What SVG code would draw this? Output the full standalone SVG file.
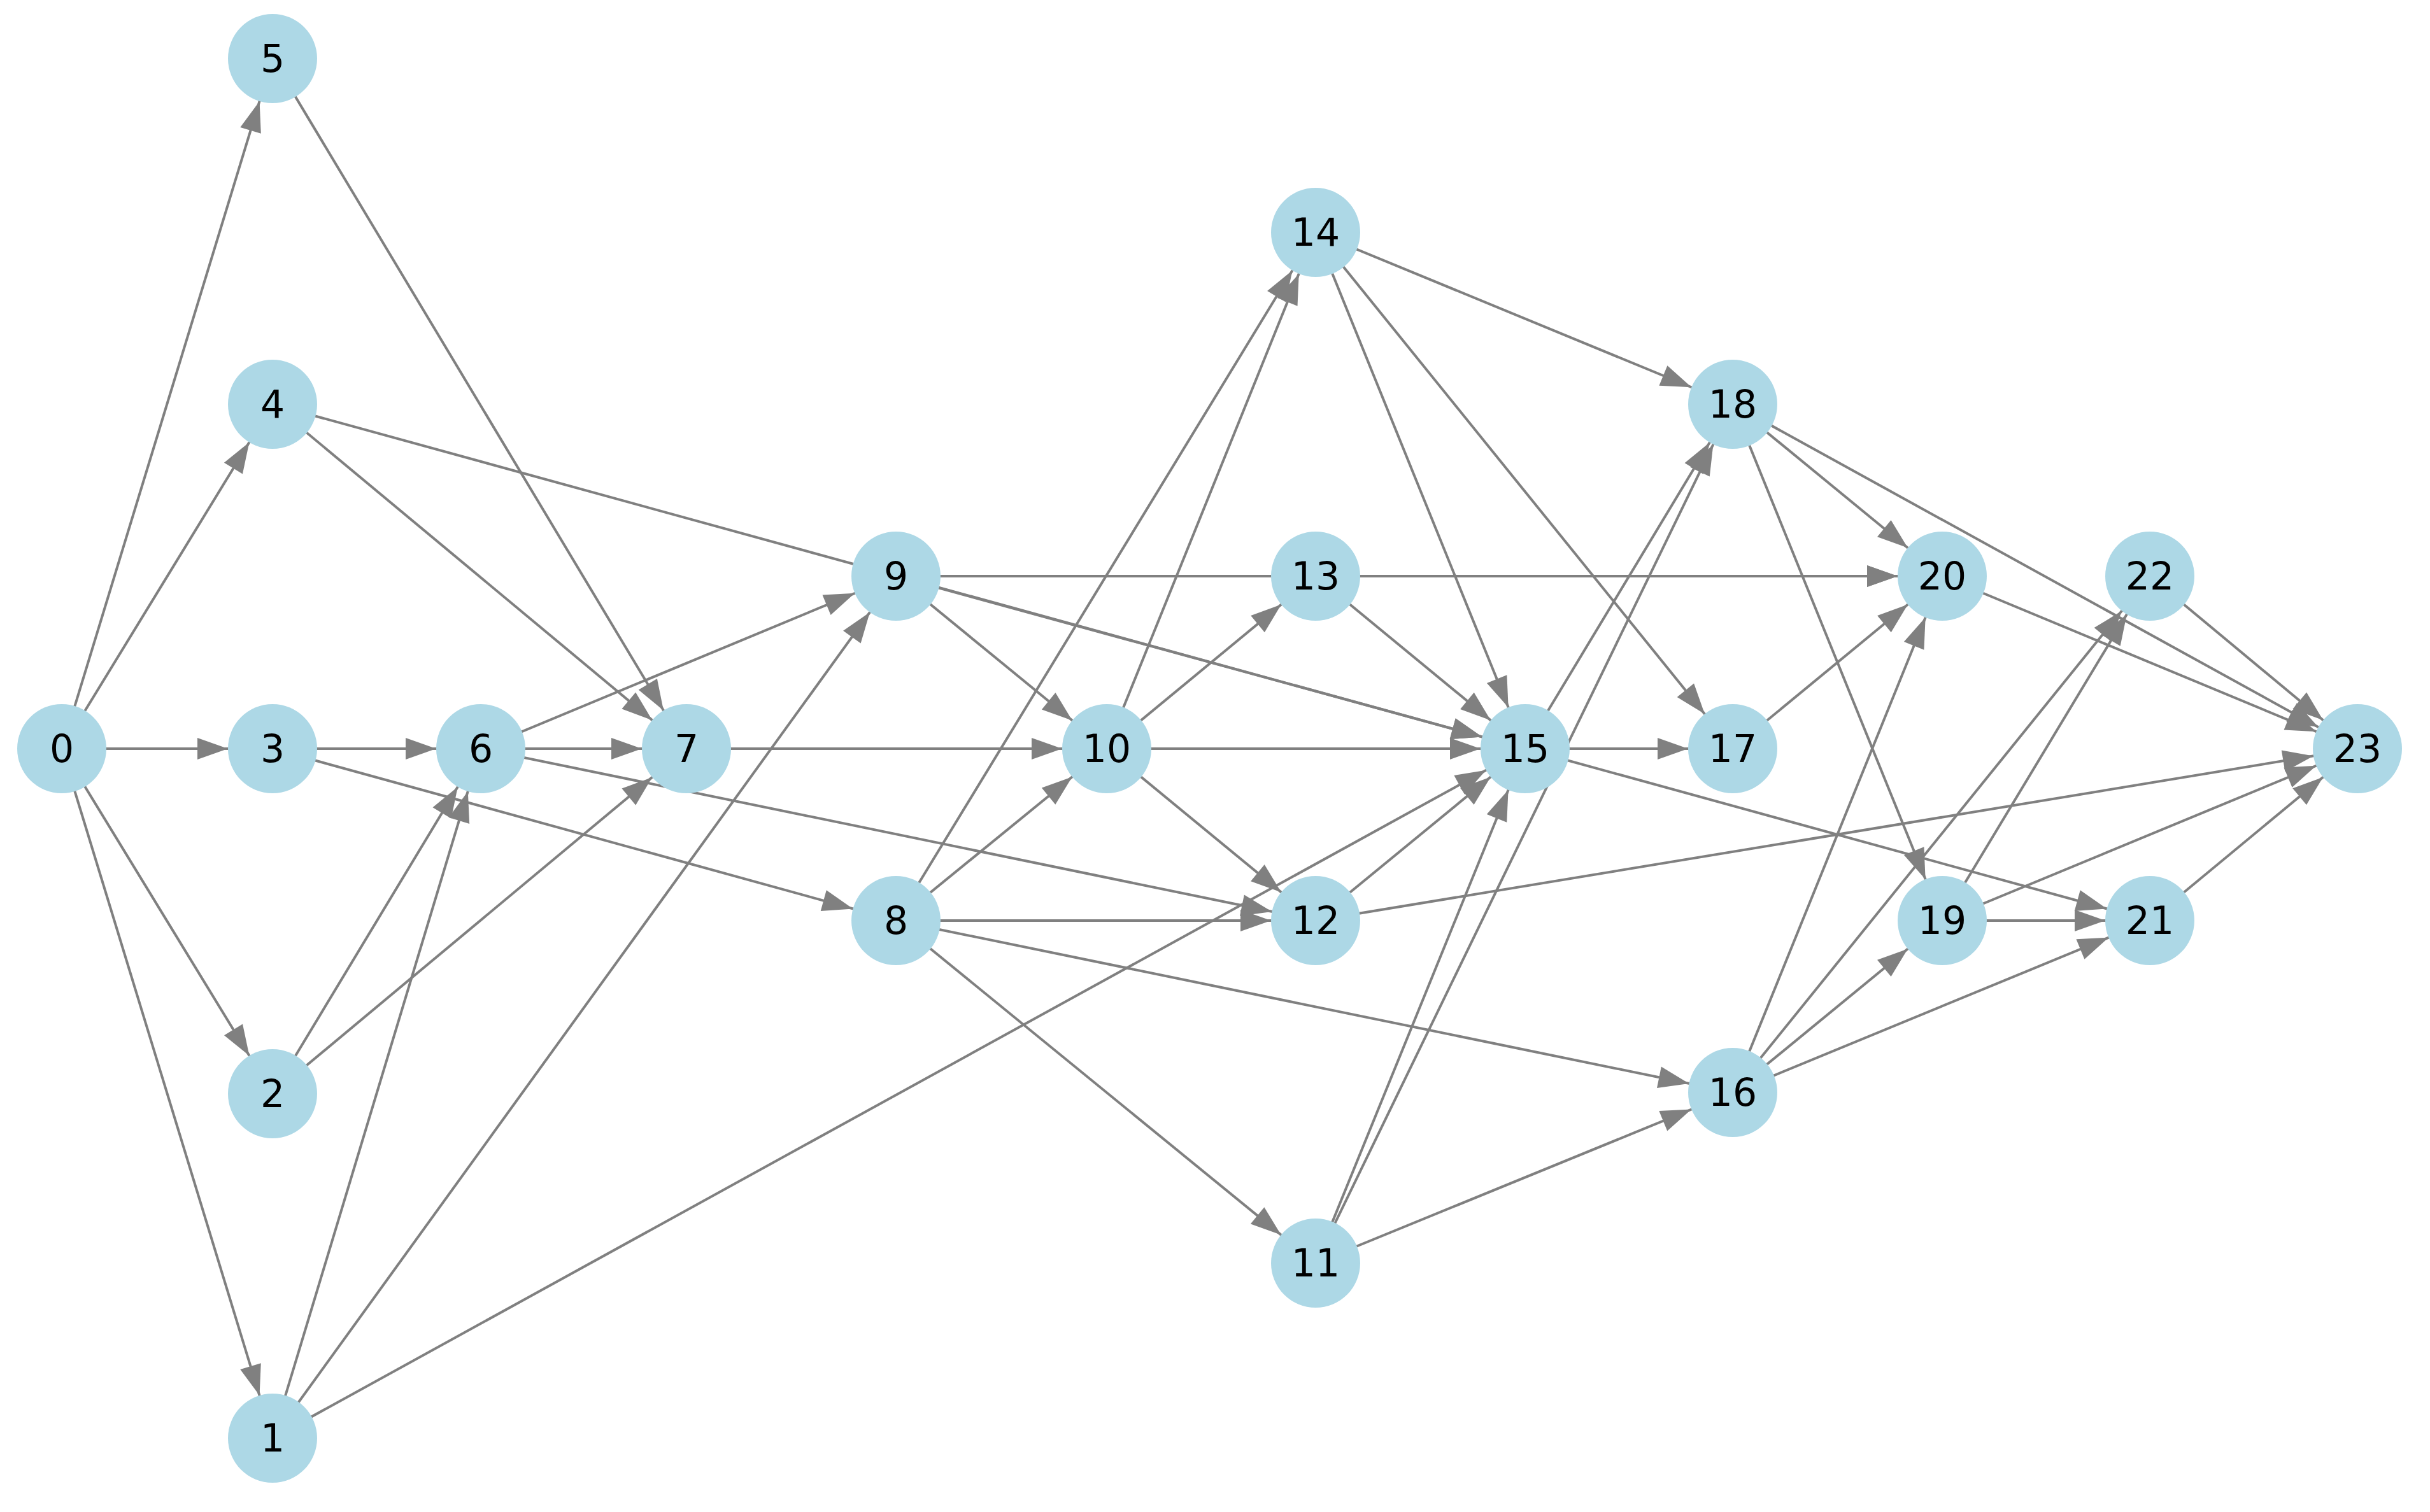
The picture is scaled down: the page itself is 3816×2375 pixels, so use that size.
<svg xmlns="http://www.w3.org/2000/svg" width="3816" height="2375" viewBox="0 0 3816 2375">
<style>
.e line{stroke:#808080;stroke-width:4;marker-end:url(#ah)}
.n circle{fill:#ADD8E6;r:70}
.n text{font-family:"DejaVu Sans",sans-serif;font-size:60px;fill:#000;text-anchor:middle;dominant-baseline:central}
</style>
<defs>
<marker id="ah" markerUnits="userSpaceOnUse" viewBox="-122 -20 122 40" refX="0" refY="0" markerWidth="122" markerHeight="40" orient="auto">
<path d="M-118,-17 L-70,0 L-118,17 Z" fill="#808080"/>
</marker>
</defs>
<rect width="3816" height="2375" fill="#fff"/>
<g id="edges" class="e">
<line x1="97" y1="1176" x2="428" y2="92"/>
<line x1="97" y1="1176" x2="428" y2="635"/>
<line x1="97" y1="1176" x2="428" y2="1176"/>
<line x1="97" y1="1176" x2="428" y2="1718"/>
<line x1="97" y1="1176" x2="428" y2="2259"/>
<line x1="428" y1="92" x2="1078" y2="1176"/>
<line x1="428" y1="635" x2="1078" y2="1176"/>
<line x1="428" y1="635" x2="2395" y2="1176"/>
<line x1="428" y1="1176" x2="755" y2="1176"/>
<line x1="428" y1="1176" x2="1407" y2="1446"/>
<line x1="428" y1="1718" x2="755" y2="1176"/>
<line x1="428" y1="1718" x2="1078" y2="1176"/>
<line x1="428" y1="2259" x2="755" y2="1176"/>
<line x1="428" y1="2259" x2="1407" y2="905"/>
<line x1="428" y1="2259" x2="2395" y2="1176"/>
<line x1="755" y1="1176" x2="1078" y2="1176"/>
<line x1="755" y1="1176" x2="1407" y2="905"/>
<line x1="755" y1="1176" x2="2066" y2="1446"/>
<line x1="1078" y1="1176" x2="1738" y2="1176"/>
<line x1="1407" y1="905" x2="3050" y2="905"/>
<line x1="1407" y1="905" x2="1738" y2="1176"/>
<line x1="1407" y1="905" x2="2395" y2="1176"/>
<line x1="1407" y1="1446" x2="2066" y2="365"/>
<line x1="1407" y1="1446" x2="1738" y2="1176"/>
<line x1="1407" y1="1446" x2="2066" y2="1446"/>
<line x1="1407" y1="1446" x2="2721" y2="1716"/>
<line x1="1407" y1="1446" x2="2066" y2="1984"/>
<line x1="1738" y1="1176" x2="2066" y2="365"/>
<line x1="1738" y1="1176" x2="2066" y2="905"/>
<line x1="1738" y1="1176" x2="2395" y2="1176"/>
<line x1="1738" y1="1176" x2="2066" y2="1446"/>
<line x1="2066" y1="365" x2="2721" y2="635"/>
<line x1="2066" y1="365" x2="2395" y2="1176"/>
<line x1="2066" y1="365" x2="2721" y2="1176"/>
<line x1="2066" y1="905" x2="3050" y2="905"/>
<line x1="2066" y1="905" x2="2395" y2="1176"/>
<line x1="2066" y1="1446" x2="2395" y2="1176"/>
<line x1="2066" y1="1446" x2="3702" y2="1176"/>
<line x1="2066" y1="1984" x2="2395" y2="1176"/>
<line x1="2066" y1="1984" x2="2721" y2="635"/>
<line x1="2066" y1="1984" x2="2721" y2="1716"/>
<line x1="2395" y1="1176" x2="2721" y2="1176"/>
<line x1="2395" y1="1176" x2="2721" y2="635"/>
<line x1="2395" y1="1176" x2="3376" y2="1446"/>
<line x1="2721" y1="635" x2="3050" y2="905"/>
<line x1="2721" y1="635" x2="3702" y2="1176"/>
<line x1="2721" y1="635" x2="3050" y2="1446"/>
<line x1="2721" y1="1176" x2="3050" y2="905"/>
<line x1="2721" y1="1716" x2="3050" y2="905"/>
<line x1="2721" y1="1716" x2="3376" y2="905"/>
<line x1="2721" y1="1716" x2="3050" y2="1446"/>
<line x1="2721" y1="1716" x2="3376" y2="1446"/>
<line x1="3050" y1="1446" x2="3376" y2="905"/>
<line x1="3050" y1="1446" x2="3376" y2="1446"/>
<line x1="3050" y1="1446" x2="3702" y2="1176"/>
<line x1="3050" y1="905" x2="3702" y2="1176"/>
<line x1="3376" y1="905" x2="3702" y2="1176"/>
<line x1="3376" y1="1446" x2="3702" y2="1176"/>
</g>
<g id="n0" class="n"><circle cx="97" cy="1176" r="70"/><text x="97" y="1176">0</text></g>
<g id="n1" class="n"><circle cx="428" cy="2259" r="70"/><text x="428" y="2259">1</text></g>
<g id="n2" class="n"><circle cx="428" cy="1718" r="70"/><text x="428" y="1718">2</text></g>
<g id="n3" class="n"><circle cx="428" cy="1176" r="70"/><text x="428" y="1176">3</text></g>
<g id="n4" class="n"><circle cx="428" cy="635" r="70"/><text x="428" y="635">4</text></g>
<g id="n5" class="n"><circle cx="428" cy="92" r="70"/><text x="428" y="92">5</text></g>
<g id="n6" class="n"><circle cx="755" cy="1176" r="70"/><text x="755" y="1176">6</text></g>
<g id="n7" class="n"><circle cx="1078" cy="1176" r="70"/><text x="1078" y="1176">7</text></g>
<g id="n8" class="n"><circle cx="1407" cy="1446" r="70"/><text x="1407" y="1446">8</text></g>
<g id="n9" class="n"><circle cx="1407" cy="905" r="70"/><text x="1407" y="905">9</text></g>
<g id="n10" class="n"><circle cx="1738" cy="1176" r="70"/><text x="1738" y="1176">10</text></g>
<g id="n11" class="n"><circle cx="2066" cy="1984" r="70"/><text x="2066" y="1984">11</text></g>
<g id="n12" class="n"><circle cx="2066" cy="1446" r="70"/><text x="2066" y="1446">12</text></g>
<g id="n13" class="n"><circle cx="2066" cy="905" r="70"/><text x="2066" y="905">13</text></g>
<g id="n14" class="n"><circle cx="2066" cy="365" r="70"/><text x="2066" y="365">14</text></g>
<g id="n15" class="n"><circle cx="2395" cy="1176" r="70"/><text x="2395" y="1176">15</text></g>
<g id="n16" class="n"><circle cx="2721" cy="1716" r="70"/><text x="2721" y="1716">16</text></g>
<g id="n17" class="n"><circle cx="2721" cy="1176" r="70"/><text x="2721" y="1176">17</text></g>
<g id="n18" class="n"><circle cx="2721" cy="635" r="70"/><text x="2721" y="635">18</text></g>
<g id="n19" class="n"><circle cx="3050" cy="1446" r="70"/><text x="3050" y="1446">19</text></g>
<g id="n20" class="n"><circle cx="3050" cy="905" r="70"/><text x="3050" y="905">20</text></g>
<g id="n21" class="n"><circle cx="3376" cy="1446" r="70"/><text x="3376" y="1446">21</text></g>
<g id="n22" class="n"><circle cx="3376" cy="905" r="70"/><text x="3376" y="905">22</text></g>
<g id="n23" class="n"><circle cx="3702" cy="1176" r="70"/><text x="3702" y="1176">23</text></g>
</svg>
